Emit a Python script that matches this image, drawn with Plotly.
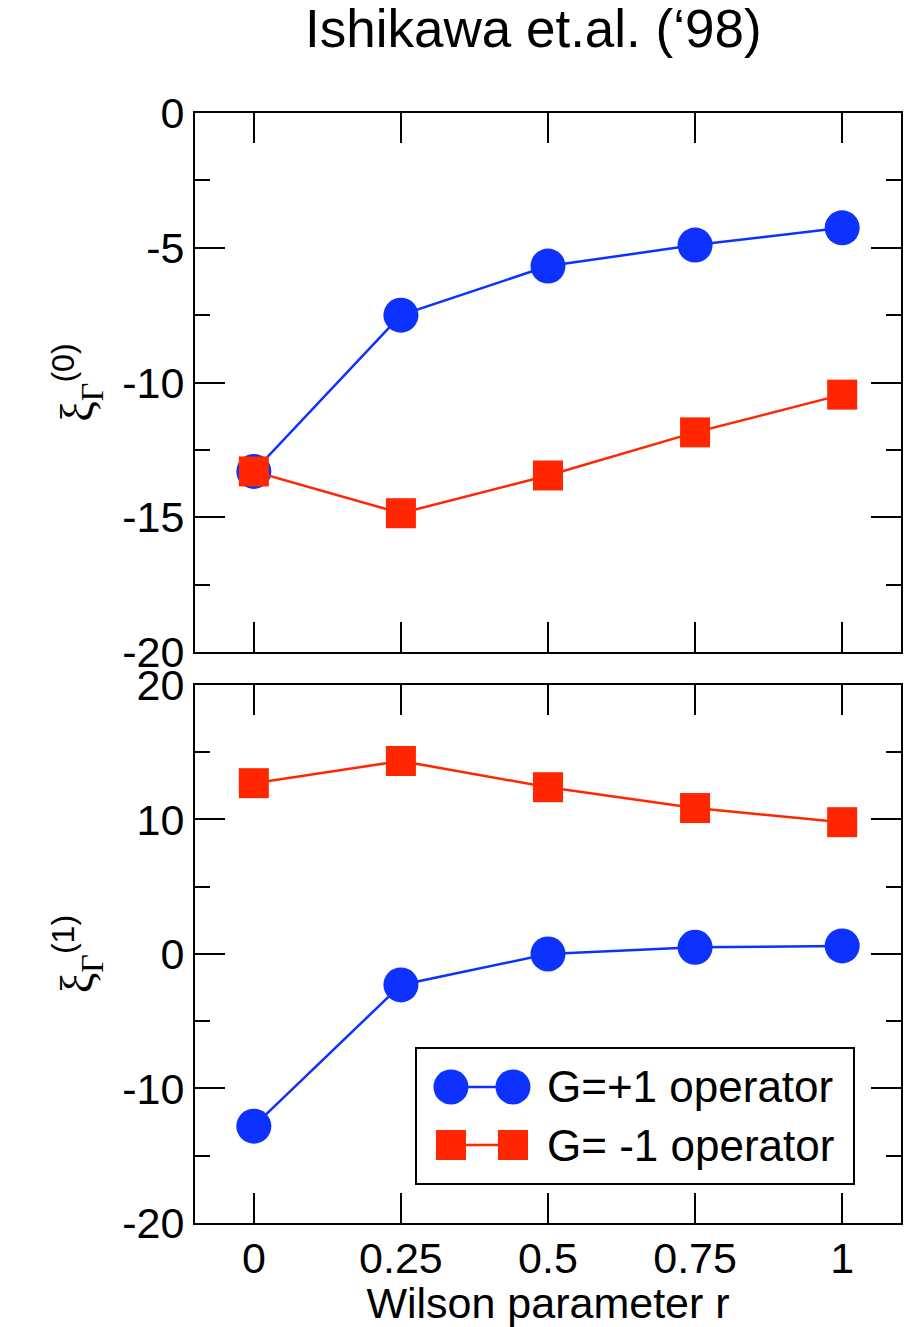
import plotly.graph_objects as go

# ---------------- data ----------------
r_vals = [0, 0.25, 0.5, 0.75, 1]
x_tick_labels = ["0", "0.25", "0.5", "0.75", "1"]

xi0_g_plus = [-13.3, -7.5, -5.68, -4.9, -4.26]
xi0_g_minus = [-13.3, -14.85, -13.45, -11.85, -10.45]

xi1_g_plus = [-12.8, -2.3, 0.0, 0.5, 0.6]
xi1_g_minus = [12.7, 14.35, 12.4, 10.85, 9.8]

top_y_ticks = [0, -5, -10, -15, -20]
top_y_labels = ["0", "-5", "-10", "-15", "-20"]
bottom_y_ticks = [20, 10, 0, -10, -20]
bottom_y_labels = ["20", "10", "0", "-10", "-20"]

legend_labels = ["G=+1 operator", "G= -1 operator"]
title_text = "Ishikawa et.al. (\u201898)"

BLUE = "#0D32FF"
RED = "#FF2600"
SANS = "Liberation Sans, Arial, Helvetica, sans-serif"
SERIF = "Liberation Serif, Times New Roman, serif"

fig = go.Figure()

# top panel
fig.add_trace(go.Scatter(x=r_vals, y=xi0_g_plus, mode="lines+markers",
                         line=dict(color=BLUE, width=2.5),
                         marker=dict(symbol="circle", size=35, color=BLUE),
                         xaxis="x", yaxis="y", showlegend=False))
fig.add_trace(go.Scatter(x=r_vals, y=xi0_g_minus, mode="lines+markers",
                         line=dict(color=RED, width=2.5),
                         marker=dict(symbol="square", size=30, color=RED),
                         xaxis="x", yaxis="y", showlegend=False))
# bottom panel
fig.add_trace(go.Scatter(x=r_vals, y=xi1_g_plus, mode="lines+markers",
                         line=dict(color=BLUE, width=2.5),
                         marker=dict(symbol="circle", size=35, color=BLUE),
                         xaxis="x2", yaxis="y2", showlegend=False))
fig.add_trace(go.Scatter(x=r_vals, y=xi1_g_minus, mode="lines+markers",
                         line=dict(color=RED, width=2.5),
                         marker=dict(symbol="square", size=30, color=RED),
                         xaxis="x2", yaxis="y2", showlegend=False))

# custom legend (drawn in an overlay box with pixel-like units)
leg_sample_x = [34, 96]
leg_row_y = [96, 38]
fig.add_trace(go.Scatter(x=leg_sample_x, y=[leg_row_y[0]] * 2, mode="lines+markers",
                         line=dict(color=BLUE, width=2.5),
                         marker=dict(symbol="circle", size=35, color=BLUE),
                         xaxis="x3", yaxis="y3", showlegend=False, hoverinfo="skip"))
fig.add_trace(go.Scatter(x=leg_sample_x, y=[leg_row_y[1]] * 2, mode="lines+markers",
                         line=dict(color=RED, width=2.5),
                         marker=dict(symbol="square", size=30, color=RED),
                         xaxis="x3", yaxis="y3", showlegend=False, hoverinfo="skip"))

common = dict(showline=True, linecolor="black", linewidth=2, mirror="ticks",
              showgrid=False, zeroline=False, ticks="inside", ticklen=30,
              tickwidth=2, tickcolor="black", automargin=False,
              tickfont=dict(family=SANS, size=43, color="black"))

xcommon = dict(common, range=[-0.1, 1.1], tickmode="array",
               tickvals=r_vals, ticktext=x_tick_labels)

TOP_DOM = [0.5144, 1.0]
BOT_DOM = [0.0, 0.4847]

fig.update_layout(
    width=916, height=1327,
    margin=dict(l=195, r=15, t=113, b=104, autoexpand=False),
    paper_bgcolor="white", plot_bgcolor="white",
    font=dict(family=SANS, color="black"),
    xaxis=dict(xcommon, anchor="y", showticklabels=False),
    xaxis2=dict(xcommon, anchor="y2", ticklabelstandoff=-4,
                title=dict(text="Wilson parameter r",
                           font=dict(family=SANS, size=43), standoff=13)),
    yaxis=dict(common, domain=TOP_DOM, anchor="x", range=[-20, 0],
               tickmode="array", tickvals=top_y_ticks, ticktext=top_y_labels,
               minor=dict(ticks="inside", ticklen=15, tickwidth=2,
                          tickcolor="black", dtick=2.5, showgrid=False),
               title=dict(text="\u03be<sub>\u0393</sub><sup><span style='font-family:Liberation Sans'>(0)</span></sup>",
                          font=dict(family=SERIF, size=46), standoff=14)),
    yaxis2=dict(common, domain=BOT_DOM, anchor="x2", range=[-20, 20],
                tickmode="array", tickvals=bottom_y_ticks, ticktext=bottom_y_labels,
                minor=dict(ticks="inside", ticklen=15, tickwidth=2,
                           tickcolor="black", dtick=5, showgrid=False),
                title=dict(text="\u03be<sub>\u0393</sub><sup><span style='font-family:Liberation Sans'>(1)</span></sup>",
                           font=dict(family=SERIF, size=46), standoff=14)),
    xaxis3=dict(domain=[0.3144, 0.932], anchor="y3", range=[0, 436],
                showline=True, linecolor="black", linewidth=2, mirror=True,
                showgrid=False, zeroline=False, showticklabels=False,
                ticks="", fixedrange=True, automargin=False),
    yaxis3=dict(domain=[0.036, 0.1568], anchor="x3", range=[0, 134],
                showline=True, linecolor="black", linewidth=2, mirror=True,
                showgrid=False, zeroline=False, showticklabels=False,
                ticks="", fixedrange=True, automargin=False),
)

for label, yy in zip(legend_labels, leg_row_y):
    fig.add_annotation(x=128, y=yy, xref="x3", yref="y3", text=label,
                       showarrow=False, xanchor="left", yanchor="middle",
                       font=dict(family=SANS, size=44, color="black"))

fig.add_annotation(x=0.479, y=1.0757, xref="paper", yref="paper",
                   text=title_text, showarrow=False,
                   xanchor="center", yanchor="middle",
                   font=dict(family=SANS, size=53, color="black"))

fig.write_html("out.html")
